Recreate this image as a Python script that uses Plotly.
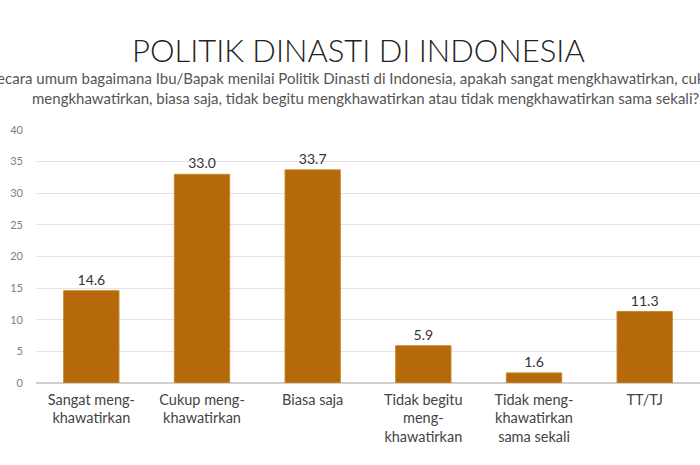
import plotly.graph_objects as go

categories = ["Sangat meng-<br>khawatirkan", "Cukup meng-<br>khawatirkan", "Biasa saja",
              "Tidak begitu<br>meng-<br>khawatirkan", "Tidak meng-<br>khawatirkan<br>sama sekali", "TT/TJ"]
values = [14.6, 33.0, 33.7, 5.9, 1.6, 11.3]
labels = ["14.6", "33.0", "33.7", "5.9", "1.6", "11.3"]
yticks = [0, 5, 10, 15, 20, 25, 30, 35, 40]

title = "POLITIK DINASTI DI INDONESIA"
sub1 = "Secara umum bagaimana Ibu/Bapak menilai Politik Dinasti di Indonesia, apakah sangat mengkhawatirkan, cukup"
sub2 = "mengkhawatirkan, biasa saja, tidak begitu mengkhawatirkan atau tidak mengkhawatirkan sama sekali?"

FONT = "Lato"
BAR = "#B5690A"

fig = go.Figure(go.Bar(
    x=categories, y=values, text=labels, textposition="outside",
    textfont=dict(family=FONT, size=14, color="#333333"),
    marker=dict(color=BAR, line=dict(color="#C98A2E", width=1)),
    cliponaxis=False, width=0.5,
))

fig.update_layout(
    width=700, height=465,
    margin=dict(l=36, r=0, t=130, b=82),
    paper_bgcolor="white", plot_bgcolor="white",
    showlegend=False,
    font=dict(family=FONT, color="#444444"),
    xaxis=dict(tickfont=dict(family=FONT, size=14.5, color="#444444"), showgrid=False,
               ticks="", showline=False, ticklabelstandoff=6),
    yaxis=dict(range=[0, 40], tickvals=yticks, tickfont=dict(family=FONT, size=11, color="#808080"),
               gridcolor="#E3E3E3", gridwidth=1, zeroline=True, zerolinecolor="#D0D0D0",
               ticklabelstandoff=12, showline=False),
)

fig.add_annotation(text=title, xref="paper", x=0.485, xanchor="center", yref="paper", y=1,
                   yshift=80, yanchor="middle", showarrow=False,
                   font=dict(family=FONT, size=31, color="#222222", weight=300))
fig.add_annotation(text=sub1, xref="paper", x=-0.074, xanchor="left", yref="paper", y=1,
                   yshift=52, yanchor="middle", showarrow=False,
                   font=dict(family=FONT, size=15, color="#555555"))
fig.add_annotation(text=sub2, xref="paper", x=-0.009, xanchor="left", yref="paper", y=1,
                   yshift=32, yanchor="middle", showarrow=False,
                   font=dict(family=FONT, size=15, color="#555555"))

fig.write_html("out.html")
